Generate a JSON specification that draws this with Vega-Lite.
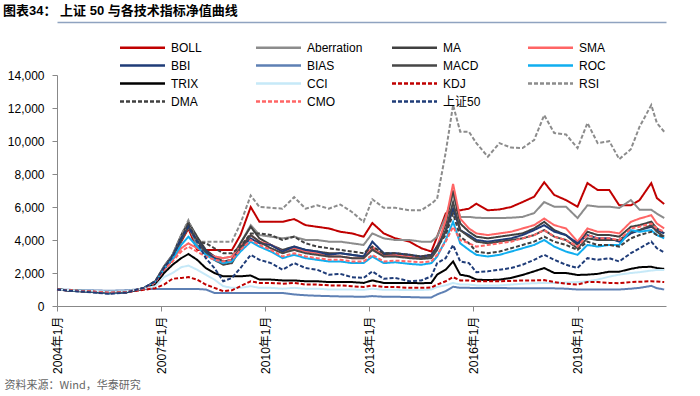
{
  "$schema": "https://vega.github.io/schema/vega-lite/v6.json",
  "width": 609,
  "height": 231,
  "autosize": {"type": "none"},
  "padding": {"left": 57, "top": 75, "right": 34, "bottom": 90},
  "background": "white",
  "title": {
    "text": "图表34：    上证 50 与各技术指标净值曲线",
    "anchor": "start",
    "frame": "group",
    "dx": -54,
    "fontSize": 13,
    "fontWeight": "bold",
    "font": "Liberation Sans, Noto Sans CJK SC",
    "color": "#000000"
  },
  "config": {
    "view": {"stroke": null},
    "axis": {"grid": false},
    "legend": {
      "orient": "none",
      "direction": "horizontal",
      "legendX": 78,
      "legendY": -35,
      "columns": 4,
      "gridAlign": "all",
      "columnPadding": 24,
      "rowPadding": 4,
      "symbolType": "M-3.75,0H3.75",
      "symbolSize": 144,
      "symbolStrokeWidth": 2.5,
      "labelFontSize": 12,
      "labelFont": "Liberation Sans, Noto Sans CJK SC",
      "labelColor": "#000000",
      "labelOffset": 21
    }
  },
  "data": {
    "values": [
      {"date":"2004-01-01","BOLL":1000,"Aberration":1000,"MA":1000,"SMA":1000,"BBI":1000,"BIAS":1000,"MACD":1000,"ROC":1000,"TRIX":1000,"CCI":1000,"KDJ":1000,"RSI":1000,"DMA":1000,"CMO":1000,"上证50":1000},
      {"date":"2004-07-01","BOLL":930,"Aberration":930,"MA":920,"SMA":920,"BBI":910,"BIAS":970,"MACD":920,"ROC":930,"TRIX":940,"CCI":950,"KDJ":930,"RSI":920,"DMA":920,"CMO":930,"上证50":900},
      {"date":"2005-01-01","BOLL":880,"Aberration":880,"MA":860,"SMA":870,"BBI":850,"BIAS":950,"MACD":870,"ROC":880,"TRIX":900,"CCI":920,"KDJ":880,"RSI":860,"DMA":870,"CMO":880,"上证50":830},
      {"date":"2005-07-01","BOLL":800,"Aberration":800,"MA":780,"SMA":790,"BBI":760,"BIAS":920,"MACD":790,"ROC":800,"TRIX":830,"CCI":870,"KDJ":800,"RSI":780,"DMA":790,"CMO":800,"上证50":740},
      {"date":"2006-01-01","BOLL":850,"Aberration":850,"MA":830,"SMA":840,"BBI":820,"BIAS":950,"MACD":840,"ROC":850,"TRIX":870,"CCI":900,"KDJ":840,"RSI":830,"DMA":840,"CMO":850,"上证50":820},
      {"date":"2006-07-01","BOLL":1050,"Aberration":1050,"MA":1080,"SMA":1060,"BBI":1080,"BIAS":1030,"MACD":1070,"ROC":1060,"TRIX":1030,"CCI":1050,"KDJ":980,"RSI":1080,"DMA":1070,"CMO":1060,"上证50":1100},
      {"date":"2006-11-01","BOLL":1400,"Aberration":1450,"MA":1500,"SMA":1450,"BBI":1480,"BIAS":1030,"MACD":1450,"ROC":1420,"TRIX":1300,"CCI":1200,"KDJ":1080,"RSI":1500,"DMA":1500,"CMO":1420,"上证50":1480},
      {"date":"2007-02-01","BOLL":2200,"Aberration":2300,"MA":2400,"SMA":2300,"BBI":2350,"BIAS":1030,"MACD":2300,"ROC":2250,"TRIX":2000,"CCI":1750,"KDJ":1300,"RSI":2400,"DMA":2350,"CMO":2200,"上证50":2300},
      {"date":"2007-05-01","BOLL":2800,"Aberration":2900,"MA":3100,"SMA":2800,"BBI":3000,"BIAS":1030,"MACD":2950,"ROC":2850,"TRIX":2500,"CCI":2000,"KDJ":1650,"RSI":3100,"DMA":3000,"CMO":2700,"上证50":3000},
      {"date":"2007-08-01","BOLL":3900,"Aberration":4000,"MA":4300,"SMA":3500,"BBI":4100,"BIAS":1030,"MACD":4000,"ROC":3700,"TRIX":2900,"CCI":2350,"KDJ":1700,"RSI":4300,"DMA":4100,"CMO":3300,"上证50":4100},
      {"date":"2007-10-15","BOLL":4700,"Aberration":4800,"MA":5100,"SMA":3800,"BBI":4800,"BIAS":1030,"MACD":4800,"ROC":4200,"TRIX":3150,"CCI":2450,"KDJ":1750,"RSI":5200,"DMA":5000,"CMO":3600,"上证50":4800},
      {"date":"2008-01-15","BOLL":3400,"Aberration":3700,"MA":4200,"SMA":3500,"BBI":4000,"BIAS":1030,"MACD":4000,"ROC":3600,"TRIX":2800,"CCI":2200,"KDJ":1600,"RSI":3900,"DMA":3900,"CMO":3300,"上证50":3900},
      {"date":"2008-04-15","BOLL":3390,"Aberration":3300,"MA":3400,"SMA":3200,"BBI":3300,"BIAS":1000,"MACD":3200,"ROC":3100,"TRIX":2300,"CCI":1900,"KDJ":1300,"RSI":3900,"DMA":3800,"CMO":3000,"上证50":2900},
      {"date":"2008-07-15","BOLL":3390,"Aberration":3000,"MA":3000,"SMA":3000,"BBI":2900,"BIAS":790,"MACD":2800,"ROC":2800,"TRIX":2000,"CCI":1600,"KDJ":1100,"RSI":3900,"DMA":3500,"CMO":2800,"上证50":2300},
      {"date":"2008-10-15","BOLL":3390,"Aberration":2900,"MA":2700,"SMA":2900,"BBI":2600,"BIAS":790,"MACD":2500,"ROC":2600,"TRIX":1800,"CCI":1200,"KDJ":900,"RSI":3900,"DMA":3200,"CMO":2700,"上证50":1500},
      {"date":"2009-01-15","BOLL":3390,"Aberration":3000,"MA":2800,"SMA":3000,"BBI":2800,"BIAS":790,"MACD":2600,"ROC":2700,"TRIX":1800,"CCI":1100,"KDJ":950,"RSI":3900,"DMA":3200,"CMO":2800,"上证50":1700},
      {"date":"2009-04-15","BOLL":4300,"Aberration":3800,"MA":3800,"SMA":3600,"BBI":3500,"BIAS":790,"MACD":3500,"ROC":3300,"TRIX":1800,"CCI":1100,"KDJ":1200,"RSI":5000,"DMA":3600,"CMO":3400,"上证50":2300},
      {"date":"2009-08-01","BOLL":6000,"Aberration":4900,"MA":4800,"SMA":4300,"BBI":4100,"BIAS":790,"MACD":4300,"ROC":3900,"TRIX":1850,"CCI":1200,"KDJ":1500,"RSI":6700,"DMA":4400,"CMO":4000,"上证50":3100},
      {"date":"2009-11-01","BOLL":5100,"Aberration":4300,"MA":4100,"SMA":3900,"BBI":3800,"BIAS":790,"MACD":3900,"ROC":3600,"TRIX":1600,"CCI":1100,"KDJ":1400,"RSI":6000,"DMA":4400,"CMO":3700,"上证50":2800},
      {"date":"2010-03-01","BOLL":5100,"Aberration":4200,"MA":3700,"SMA":3700,"BBI":3700,"BIAS":790,"MACD":3500,"ROC":3300,"TRIX":1600,"CCI":1100,"KDJ":1400,"RSI":5950,"DMA":4300,"CMO":3400,"上证50":2600},
      {"date":"2010-07-01","BOLL":5100,"Aberration":4100,"MA":3400,"SMA":3300,"BBI":3300,"BIAS":790,"MACD":3200,"ROC":2900,"TRIX":1550,"CCI":1050,"KDJ":1350,"RSI":5900,"DMA":4000,"CMO":3000,"上证50":2200},
      {"date":"2010-11-01","BOLL":5270,"Aberration":4200,"MA":3600,"SMA":3500,"BBI":3600,"BIAS":700,"MACD":3400,"ROC":3100,"TRIX":1550,"CCI":1100,"KDJ":1400,"RSI":6600,"DMA":4200,"CMO":3200,"上证50":2600},
      {"date":"2011-03-01","BOLL":4900,"Aberration":4000,"MA":3400,"SMA":3300,"BBI":3400,"BIAS":650,"MACD":3200,"ROC":2900,"TRIX":1500,"CCI":1050,"KDJ":1300,"RSI":5900,"DMA":3800,"CMO":3000,"上证50":2300},
      {"date":"2011-07-01","BOLL":4800,"Aberration":4000,"MA":3300,"SMA":3200,"BBI":3300,"BIAS":620,"MACD":3100,"ROC":2800,"TRIX":1500,"CCI":1050,"KDJ":1300,"RSI":6100,"DMA":3600,"CMO":2900,"上证50":2200},
      {"date":"2011-11-01","BOLL":4700,"Aberration":3900,"MA":3200,"SMA":3000,"BBI":3100,"BIAS":600,"MACD":3000,"ROC":2700,"TRIX":1450,"CCI":1000,"KDJ":1250,"RSI":5900,"DMA":3500,"CMO":2800,"上证50":1900},
      {"date":"2012-03-01","BOLL":4500,"Aberration":3900,"MA":3200,"SMA":3000,"BBI":3200,"BIAS":580,"MACD":3000,"ROC":2700,"TRIX":1450,"CCI":1000,"KDJ":1250,"RSI":6150,"DMA":3400,"CMO":2800,"上证50":1950},
      {"date":"2012-07-01","BOLL":4400,"Aberration":3800,"MA":3100,"SMA":2900,"BBI":3100,"BIAS":570,"MACD":2900,"ROC":2600,"TRIX":1450,"CCI":1000,"KDJ":1200,"RSI":5700,"DMA":3300,"CMO":2700,"上证50":1750},
      {"date":"2012-11-01","BOLL":4200,"Aberration":3700,"MA":3000,"SMA":2900,"BBI":3000,"BIAS":560,"MACD":2900,"ROC":2600,"TRIX":1400,"CCI":980,"KDJ":1150,"RSI":5100,"DMA":3200,"CMO":2700,"上证50":1700},
      {"date":"2013-02-01","BOLL":5030,"Aberration":4400,"MA":3500,"SMA":3600,"BBI":3900,"BIAS":600,"MACD":3400,"ROC":3000,"TRIX":1550,"CCI":1050,"KDJ":1250,"RSI":6470,"DMA":3600,"CMO":3100,"上证50":2100},
      {"date":"2013-06-01","BOLL":4400,"Aberration":4100,"MA":3100,"SMA":3000,"BBI":3200,"BIAS":560,"MACD":3000,"ROC":2600,"TRIX":1400,"CCI":980,"KDJ":1150,"RSI":5950,"DMA":3200,"CMO":2700,"上证50":1650},
      {"date":"2013-10-01","BOLL":4100,"Aberration":4000,"MA":3100,"SMA":3100,"BBI":3200,"BIAS":560,"MACD":3000,"ROC":2650,"TRIX":1400,"CCI":980,"KDJ":1150,"RSI":5950,"DMA":3200,"CMO":2750,"上证50":1700},
      {"date":"2014-03-01","BOLL":3900,"Aberration":4000,"MA":3000,"SMA":3000,"BBI":3100,"BIAS":540,"MACD":2900,"ROC":2550,"TRIX":1400,"CCI":970,"KDJ":1100,"RSI":5800,"DMA":3100,"CMO":2700,"上证50":1500},
      {"date":"2014-07-01","BOLL":3500,"Aberration":3900,"MA":2950,"SMA":3000,"BBI":3000,"BIAS":520,"MACD":2850,"ROC":2500,"TRIX":1380,"CCI":970,"KDJ":1100,"RSI":5800,"DMA":3000,"CMO":2650,"上证50":1550},
      {"date":"2014-10-15","BOLL":3300,"Aberration":3900,"MA":3000,"SMA":3100,"BBI":3100,"BIAS":520,"MACD":2900,"ROC":2600,"TRIX":1400,"CCI":1000,"KDJ":1120,"RSI":6200,"DMA":3100,"CMO":2700,"上证50":1800},
      {"date":"2014-12-15","BOLL":4200,"Aberration":4200,"MA":3500,"SMA":3600,"BBI":3600,"BIAS":700,"MACD":3400,"ROC":3000,"TRIX":1900,"CCI":1150,"KDJ":1300,"RSI":6500,"DMA":3600,"CMO":3100,"上证50":2600},
      {"date":"2015-03-15","BOLL":5600,"Aberration":5400,"MA":5000,"SMA":5200,"BBI":4500,"BIAS":900,"MACD":4600,"ROC":4000,"TRIX":2200,"CCI":1250,"KDJ":1500,"RSI":9300,"DMA":4300,"CMO":3900,"上证50":2900},
      {"date":"2015-06-01","BOLL":5800,"Aberration":6800,"MA":7000,"SMA":7400,"BBI":5900,"BIAS":1170,"MACD":6300,"ROC":5100,"TRIX":2700,"CCI":1400,"KDJ":1750,"RSI":12180,"DMA":5600,"CMO":4800,"上证50":3700},
      {"date":"2015-08-15","BOLL":5800,"Aberration":5400,"MA":5000,"SMA":5300,"BBI":4600,"BIAS":1100,"MACD":4600,"ROC":3800,"TRIX":1900,"CCI":1300,"KDJ":1550,"RSI":10560,"DMA":4200,"CMO":4000,"上证50":2700},
      {"date":"2015-11-15","BOLL":5900,"Aberration":5400,"MA":4500,"SMA":4700,"BBI":4300,"BIAS":1100,"MACD":4200,"ROC":3400,"TRIX":1800,"CCI":1300,"KDJ":1550,"RSI":10560,"DMA":3800,"CMO":3800,"上证50":2600},
      {"date":"2016-02-01","BOLL":6200,"Aberration":5350,"MA":4200,"SMA":4400,"BBI":4000,"BIAS":1090,"MACD":3900,"ROC":3100,"TRIX":1600,"CCI":1250,"KDJ":1500,"RSI":9870,"DMA":3300,"CMO":3600,"上证50":2050},
      {"date":"2016-06-01","BOLL":5800,"Aberration":5330,"MA":4100,"SMA":4300,"BBI":3900,"BIAS":1090,"MACD":3800,"ROC":3000,"TRIX":1570,"CCI":1250,"KDJ":1500,"RSI":9050,"DMA":3200,"CMO":3700,"上证50":2100},
      {"date":"2016-10-01","BOLL":5850,"Aberration":5330,"MA":4200,"SMA":4400,"BBI":4000,"BIAS":1090,"MACD":3900,"ROC":3100,"TRIX":1600,"CCI":1250,"KDJ":1500,"RSI":9870,"DMA":3300,"CMO":3800,"上证50":2200},
      {"date":"2017-02-01","BOLL":6000,"Aberration":5350,"MA":4300,"SMA":4500,"BBI":4100,"BIAS":1080,"MACD":4000,"ROC":3300,"TRIX":1700,"CCI":1300,"KDJ":1520,"RSI":9600,"DMA":3500,"CMO":3900,"上证50":2300},
      {"date":"2017-06-01","BOLL":6300,"Aberration":5400,"MA":4400,"SMA":4700,"BBI":4300,"BIAS":1070,"MACD":4100,"ROC":3500,"TRIX":1880,"CCI":1350,"KDJ":1550,"RSI":9570,"DMA":3700,"CMO":4100,"上证50":2500},
      {"date":"2017-10-01","BOLL":6620,"Aberration":5630,"MA":4700,"SMA":4900,"BBI":4600,"BIAS":1070,"MACD":4300,"ROC":3700,"TRIX":2100,"CCI":1380,"KDJ":1550,"RSI":10060,"DMA":3900,"CMO":4300,"上证50":2800},
      {"date":"2018-01-15","BOLL":7500,"Aberration":6300,"MA":5100,"SMA":5300,"BBI":4900,"BIAS":1080,"MACD":4600,"ROC":4000,"TRIX":2300,"CCI":1400,"KDJ":1570,"RSI":11570,"DMA":4200,"CMO":4600,"上证50":3100},
      {"date":"2018-05-01","BOLL":6730,"Aberration":6020,"MA":4600,"SMA":4900,"BBI":4500,"BIAS":1070,"MACD":4200,"ROC":3600,"TRIX":2000,"CCI":1400,"KDJ":1450,"RSI":10480,"DMA":3900,"CMO":4200,"上证50":2800},
      {"date":"2018-09-01","BOLL":6420,"Aberration":6020,"MA":4300,"SMA":4700,"BBI":4300,"BIAS":1050,"MACD":4000,"ROC":3300,"TRIX":2000,"CCI":1420,"KDJ":1350,"RSI":10400,"DMA":3700,"CMO":4000,"上证50":2500},
      {"date":"2019-01-01","BOLL":6020,"Aberration":5330,"MA":3700,"SMA":3900,"BBI":3800,"BIAS":1000,"MACD":3500,"ROC":3100,"TRIX":1880,"CCI":1450,"KDJ":1300,"RSI":9570,"DMA":3400,"CMO":3600,"上证50":2300},
      {"date":"2019-04-15","BOLL":7450,"Aberration":6100,"MA":4500,"SMA":4700,"BBI":4300,"BIAS":1000,"MACD":4100,"ROC":3700,"TRIX":1900,"CCI":1500,"KDJ":1450,"RSI":11090,"DMA":3900,"CMO":4300,"上证50":2900},
      {"date":"2019-08-01","BOLL":7030,"Aberration":6020,"MA":4300,"SMA":4500,"BBI":4100,"BIAS":1000,"MACD":4000,"ROC":3600,"TRIX":1950,"CCI":1600,"KDJ":1450,"RSI":9870,"DMA":3700,"CMO":4100,"上证50":2800},
      {"date":"2019-12-01","BOLL":7030,"Aberration":6020,"MA":4300,"SMA":4500,"BBI":4100,"BIAS":1000,"MACD":4000,"ROC":3700,"TRIX":2080,"CCI":1780,"KDJ":1400,"RSI":9990,"DMA":3700,"CMO":4100,"上证50":2900},
      {"date":"2020-03-15","BOLL":6100,"Aberration":5940,"MA":4200,"SMA":4400,"BBI":3900,"BIAS":1000,"MACD":4000,"ROC":3700,"TRIX":2080,"CCI":1900,"KDJ":1380,"RSI":8900,"DMA":3600,"CMO":4000,"上证50":2700},
      {"date":"2020-07-15","BOLL":6100,"Aberration":6420,"MA":4800,"SMA":5100,"BBI":4400,"BIAS":1050,"MACD":4500,"ROC":4600,"TRIX":2250,"CCI":2000,"KDJ":1450,"RSI":9500,"DMA":4100,"CMO":4700,"上证50":3200},
      {"date":"2020-10-15","BOLL":6420,"Aberration":5830,"MA":4900,"SMA":5300,"BBI":4600,"BIAS":1100,"MACD":4600,"ROC":4500,"TRIX":2350,"CCI":2050,"KDJ":1470,"RSI":10870,"DMA":4300,"CMO":4800,"上证50":3500},
      {"date":"2021-02-15","BOLL":7450,"Aberration":5830,"MA":5110,"SMA":5500,"BBI":4800,"BIAS":1220,"MACD":4900,"ROC":4600,"TRIX":2380,"CCI":2150,"KDJ":1500,"RSI":12180,"DMA":4500,"CMO":5000,"上证50":3900},
      {"date":"2021-04-15","BOLL":6540,"Aberration":5600,"MA":4700,"SMA":5000,"BBI":4600,"BIAS":1080,"MACD":4500,"ROC":4300,"TRIX":2300,"CCI":2180,"KDJ":1480,"RSI":11090,"DMA":4300,"CMO":4700,"上证50":3500},
      {"date":"2021-07-01","BOLL":6180,"Aberration":5330,"MA":4400,"SMA":4700,"BBI":4400,"BIAS":1000,"MACD":4200,"ROC":4100,"TRIX":2250,"CCI":2180,"KDJ":1450,"RSI":10560,"DMA":4200,"CMO":4500,"上证50":3250}
    ]
  },
  "layer": [
    {
      "transform": [
        {"fold": ["BOLL","Aberration","MA","SMA","BBI","BIAS","MACD","ROC","TRIX","CCI","KDJ","RSI","DMA","CMO","上证50"], "as": ["series","value"]}
      ],
      "mark": {"type": "line", "strokeWidth": 2},
      "encoding": {
        "x": {
          "field": "date",
          "type": "temporal",
          "scale": {"domain": ["2004-01-01","2021-07-20"], "nice": false},
          "axis": {
            "values": [
              {"year": 2004, "month": 1, "date": 1},
              {"year": 2007, "month": 1, "date": 1},
              {"year": 2010, "month": 1, "date": 1},
              {"year": 2013, "month": 1, "date": 1},
              {"year": 2016, "month": 1, "date": 1},
              {"year": 2019, "month": 1, "date": 1}
            ],
            "labelExpr": "year(datum.value) + '年1月'",
            "labelAngle": 270,
            "labelAlign": "right",
            "labelBaseline": "middle",
            "labelPadding": 5,
            "labelFontSize": 12,
            "labelFont": "Liberation Sans, Noto Sans CJK SC",
            "labelColor": "#000000",
            "tickSize": 5,
            "tickColor": "#888888",
            "domainColor": "#888888",
            "labelOverlap": false,
            "title": "资料来源：Wind，华泰研究",
            "titleAnchor": "start",
            "titleAlign": "left",
            "titleBaseline": "alphabetic",
            "titleX": -53,
            "titleY": 82,
            "titleFontSize": 11,
            "titleFontWeight": "normal",
            "titleFont": "Noto Sans CJK SC",
            "titleColor": "#666666"
          }
        },
        "y": {
          "field": "value",
          "type": "quantitative",
          "scale": {"domain": [0, 14000], "nice": false},
          "axis": {
            "values": [0,2000,4000,6000,8000,10000,12000,14000],
            "format": ",.0f",
            "labelFontSize": 12,
            "labelFont": "Liberation Sans",
            "labelColor": "#000000",
            "labelPadding": 8,
            "tickSize": 5,
            "tickColor": "#888888",
            "domainColor": "#888888",
            "title": null
          }
        },
        "color": {
          "field": "series",
          "type": "nominal",
          "sort": null,
          "scale": {
            "domain": ["BOLL","Aberration","MA","SMA","BBI","BIAS","MACD","ROC","TRIX","CCI","KDJ","RSI","DMA","CMO","上证50"],
            "range": ["#C00000","#8C8C8C","#404040","#FF6565","#1F3C78","#5E80B4","#474747","#10AEEF","#000000","#C6E9F8","#C00000","#8C8C8C","#404040","#FF6565","#1F3C78"]
          },
          "legend": {"title": null}
        },
        "strokeDash": {
          "field": "series",
          "type": "nominal",
          "sort": null,
          "scale": {
            "domain": ["BOLL","Aberration","MA","SMA","BBI","BIAS","MACD","ROC","TRIX","CCI","KDJ","RSI","DMA","CMO","上证50"],
            "range": [[1,0],[1,0],[1,0],[1,0],[1,0],[1,0],[1,0],[1,0],[1,0],[1,0],[4,2],[4,2],[4,2],[4,2],[4,2]]
          },
          "legend": {"title": null}
        }
      }
    },
    {
      "mark": {"type": "rule", "opacity": 0},
      "encoding": {
        "x": {
          "field": "date",
          "type": "temporal",
          "axis": {
            "orient": "top",
            "offset": 53,
            "labels": false,
            "ticks": false,
            "title": null,
            "domainColor": "#8FA3C0",
            "domainWidth": 1.5
          }
        }
      }
    }
  ],
  "resolve": {"axis": {"x": "independent"}}
}
